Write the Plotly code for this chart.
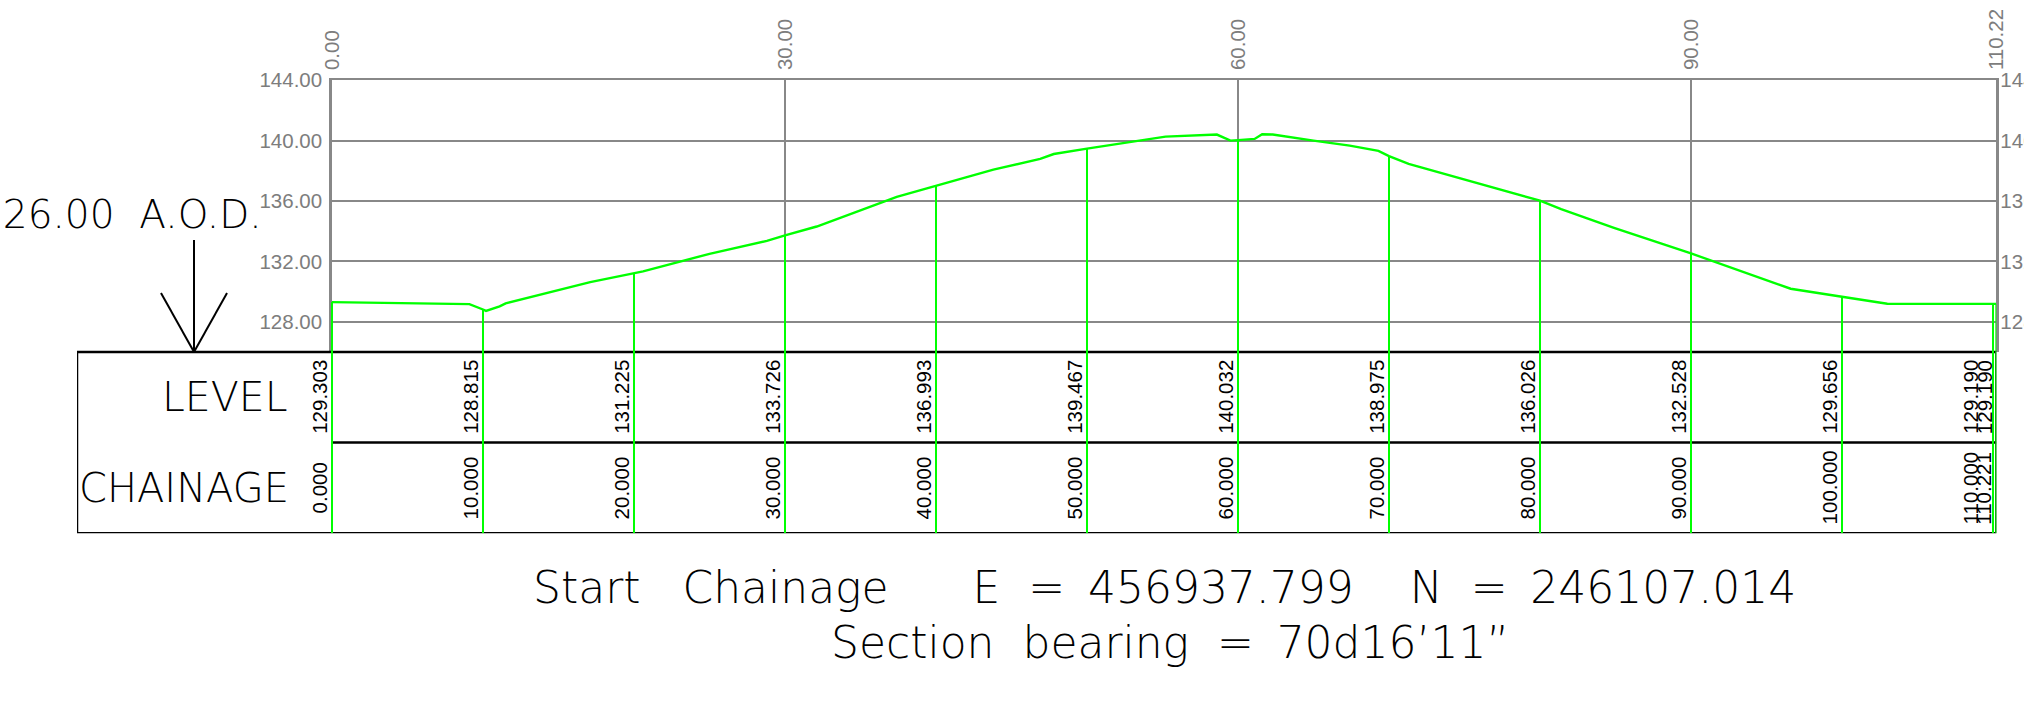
import plotly.graph_objects as go

# ---------------- data ----------------
STATION_CH = [0.0, 10.0, 20.0, 30.0, 40.0, 50.0, 60.0, 70.0, 80.0, 90.0, 100.0, 110.0, 110.221]
STATION_LV = [129.303, 128.815, 131.225, 133.726, 136.993, 139.467, 140.032, 138.975,
              136.026, 132.528, 129.656, 129.190, 129.190]

PROFILE_CH = [0.0, 9.1, 10.0, 10.2, 11.1, 11.5, 17.1, 20.0, 20.6, 25.0, 28.8, 30.0, 32.1,
              37.4, 40.0, 43.8, 46.9, 47.8, 50.0, 55.2, 58.6, 59.5, 60.0, 61.1, 61.6, 62.3,
              65.0, 67.4, 69.3, 70.0, 71.3, 80.0, 81.4, 84.9, 90.0, 96.6, 100.0, 103.0,
              110.0, 110.221]
PROFILE_LV = [129.303, 129.17, 128.815, 128.72, 129.02, 129.22, 130.63, 131.225, 131.34,
              132.50, 133.36, 133.726, 134.31, 136.28, 136.993, 138.08, 138.79, 139.11,
              139.467, 140.26, 140.40, 140.00, 140.032, 140.11, 140.42, 140.40, 140.00,
              139.67, 139.32, 138.975, 138.46, 136.026, 135.46, 134.22, 132.528, 130.19,
              129.656, 129.20, 129.190, 129.190]

FRAME_TICKS_CH = [0.0, 30.0, 60.0, 90.0, 110.221]
FRAME_TICK_TEXT = ["0.00", "30.00", "60.00", "90.00", "110.22"]
LEVEL_TICKS = [128.0, 132.0, 136.0, 140.0, 144.0]
DATUM = 126.0
TOP_LEVEL = 144.0
TABLE_ROW_SPLIT = 120.0
TABLE_BOTTOM = 114.0
START_E = "456937.799"
START_N = "246107.014"
BEARING = "70d16\u201911\u201d"

# ---------------- layout geometry ----------------
W, H = 2024, 701
PX_PER_M = 15.1
X0_PX = 332.0
Y_TOP_PX = 80.2
CH_END = STATION_CH[-1]
XR_PX = X0_PX + CH_END * PX_PER_M
TABLE_LEFT_PX = 77.0
TABLE_LEFT_CH = (TABLE_LEFT_PX - X0_PX) / PX_PER_M


def ypx(level):
    return Y_TOP_PX + (TOP_LEVEL - level) * PX_PER_M


GREEN = "#00ff00"
GRID = "#888888"
LABEL_GREY = "#7d7d7d"
CAD_FONT = "DejaVu Sans"
NUM_FONT = "Liberation Sans"
NB = "\u00a0"
TH = "\u2009"

fig = go.Figure()

# ground profile
fig.add_trace(go.Scatter(x=PROFILE_CH, y=PROFILE_LV, mode="lines",
                         line=dict(color=GREEN, width=2.4),
                         xaxis="x", yaxis="y", hoverinfo="skip", showlegend=False))
# right-hand level axis helper (no visible marks)
fig.add_trace(go.Scatter(x=[], y=[], xaxis="x", yaxis="y3", showlegend=False, hoverinfo="skip"))

# station verticals, from ground down through the table
vx, vy = [], []
for c, lv in zip(STATION_CH, STATION_LV):
    vx += [c, c, None]
    vy += [lv, TABLE_BOTTOM, None]
fig.add_trace(go.Scatter(x=vx, y=vy, mode="lines", line=dict(color=GREEN, width=2),
                         xaxis="x2", yaxis="y2", hoverinfo="skip", showlegend=False))

shapes = []
# table outline and row divider
shapes.append(dict(type="rect", xref="x2", yref="y2", x0=TABLE_LEFT_CH, x1=CH_END,
                   y0=TABLE_BOTTOM, y1=DATUM, line=dict(color="black", width=2.5), layer="below"))
shapes.append(dict(type="line", xref="x2", yref="y2", x0=0, x1=CH_END,
                   y0=TABLE_ROW_SPLIT, y1=TABLE_ROW_SPLIT, line=dict(color="black", width=2.5),
                   layer="below"))
# datum arrow
ARROW_CH = (194 - X0_PX) / PX_PER_M
ARROW_TOP = DATUM + (ypx(DATUM) - 240) / PX_PER_M
ARROW_ARM_Y = DATUM + (ypx(DATUM) - 293) / PX_PER_M
ARROW_HALF = 33 / PX_PER_M
for x0, y0 in [(ARROW_CH, ARROW_TOP), (ARROW_CH - ARROW_HALF, ARROW_ARM_Y),
               (ARROW_CH + ARROW_HALF, ARROW_ARM_Y)]:
    shapes.append(dict(type="line", xref="x2", yref="y2", x0=x0, y0=y0, x1=ARROW_CH, y1=DATUM,
                       line=dict(color="black", width=2)))

annotations = []
row_level = (DATUM + TABLE_ROW_SPLIT) / 2
row_chain = (TABLE_ROW_SPLIT + TABLE_BOTTOM) / 2
for i, (c, lv) in enumerate(zip(STATION_CH, STATION_LV)):
    shift = 1
    if i + 1 < len(STATION_CH) and STATION_CH[i + 1] - c < 1:
        shift = -9
    for yv, txt in [(row_level, f"{lv:.3f}"), (row_chain, f"{c:.3f}")]:
        annotations.append(dict(xref="x2", yref="y2", x=c, y=yv, text=txt, textangle=-90,
                                xanchor="right", yanchor="middle", showarrow=False, xshift=shift,
                                font=dict(family=NUM_FONT, size=20.5, color="black")))

annotations.append(dict(xref="x2", yref="y2", x=(290 - X0_PX) / PX_PER_M, y=row_level,
                        text="LEVEL", xanchor="right", yanchor="middle", showarrow=False,
                        font=dict(family=CAD_FONT, size=41, color="black", weight=200)))
annotations.append(dict(xref="x2", yref="y2", x=(291 - X0_PX) / PX_PER_M, y=row_chain,
                        text="CHAINAGE", xanchor="right", yanchor="middle", showarrow=False,
                        font=dict(family=CAD_FONT, size=40, color="black", weight=200)))
annotations.append(dict(xref="x2", yref="y2", x=(264 - X0_PX) / PX_PER_M,
                        y=DATUM + (ypx(DATUM) - 214) / PX_PER_M,
                        text=f"{DATUM:.2f}{NB*2}A.O.D.", xanchor="right", yanchor="middle",
                        showarrow=False,
                        font=dict(family=CAD_FONT, size=39, color="black", weight=200)))

line1 = ("Start" + NB * 3 + "Chainage" + NB * 6 + "E" + NB * 2 + "=" + NB + TH + START_E
         + NB * 4 + "N" + NB * 2 + "=" + NB + TH + START_N)
line2 = "Section" + NB * 2 + "bearing" + NB * 2 + "=" + NB + TH + BEARING
for txt, ypix, dx in [(line1, 587, 0), (line2, 642, 6)]:
    annotations.append(dict(xref="x2", yref="paper", x=CH_END / 2, y=1 - ypix / H, text=txt,
                            xanchor="center", yanchor="middle", showarrow=False, xshift=dx,
                            font=dict(family=CAD_FONT, size=44, color="black", weight=200)))

tick_font = dict(family=NUM_FONT, size=20.5, color=LABEL_GREY)
fig.update_layout(
    width=W, height=H,
    margin=dict(l=0, r=0, t=0, b=0, pad=0, autoexpand=False),
    paper_bgcolor="white", plot_bgcolor="rgba(0,0,0,0)",
    showlegend=False,
    xaxis=dict(domain=[X0_PX / W, XR_PX / W], range=[0, CH_END], anchor="y", side="top",
               tickmode="array", tickvals=FRAME_TICKS_CH, ticktext=FRAME_TICK_TEXT,
               tickangle=-90, tickfont=tick_font, ticks="", ticklabelstandoff=4,
               showgrid=True, gridcolor=GRID, gridwidth=2, zeroline=False, automargin=False,
               showline=True, linecolor=GRID, linewidth=2, fixedrange=True),
    yaxis=dict(domain=[1 - ypx(DATUM) / H, 1 - ypx(TOP_LEVEL) / H], range=[DATUM, TOP_LEVEL],
               anchor="x", tickmode="array", tickvals=LEVEL_TICKS,
               ticktext=[f"{v:.2f}" for v in LEVEL_TICKS], tickfont=tick_font, ticks="",
               ticklabelstandoff=3, automargin=False,
               showgrid=True, gridcolor=GRID, gridwidth=2, zeroline=False,
               showline=True, mirror=True, linecolor=GRID, linewidth=2.5, fixedrange=True),
    yaxis3=dict(overlaying="y", side="right", anchor="x", range=[DATUM, TOP_LEVEL],
                tickmode="array", tickvals=LEVEL_TICKS, automargin=False,
                ticktext=[f"{v:.2f}" for v in LEVEL_TICKS], tickfont=tick_font, ticks="",
                ticklabelstandoff=3, showgrid=False, zeroline=False, showline=False,
                fixedrange=True),
    xaxis2=dict(domain=[TABLE_LEFT_PX / W, XR_PX / W], range=[TABLE_LEFT_CH, CH_END],
                anchor="y2", visible=False, fixedrange=True, automargin=False),
    yaxis2=dict(domain=[1 - ypx(TABLE_BOTTOM) / H, 1 - ypx(TOP_LEVEL) / H],
                range=[TABLE_BOTTOM, TOP_LEVEL], anchor="x2", visible=False, fixedrange=True,
                automargin=False),
    shapes=shapes,
    annotations=annotations,
)

fig.write_html("out.html", config={"displayModeBar": False},
               post_script="document.body.style.margin='0px';")
